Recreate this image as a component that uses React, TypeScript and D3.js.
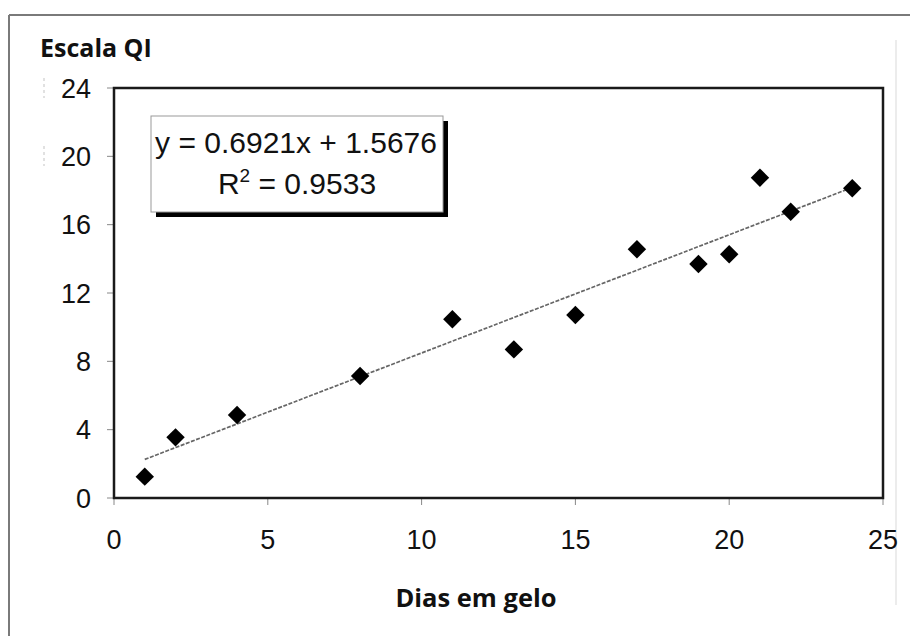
import React from "react";
import * as d3 from "d3";

const days = [1, 2, 4, 8, 11, 13, 15, 17, 19, 20, 21, 22, 24];
const iqScale = [1.25, 3.55, 4.86, 7.14, 10.46, 8.7, 10.71, 14.56, 13.7, 14.27, 18.75, 16.76, 18.13];
const xTicks = [0, 5, 10, 15, 20, 25];
const yTicks = [0, 4, 8, 12, 16, 20, 24];
const slope = 0.6921;
const intercept = 1.5676;
const eqLabel = "y = 0.6921x + 1.5676";
const r2Value = " = 0.9533";
const yTitle = "Escala QI";
const xTitle = "Dias em gelo";

export default function App() {
  const W = 910, H = 636;
  const L = 114, R = 883, T = 88, B = 498;
  const x = d3.scaleLinear().domain([0, 25]).range([L, R]);
  const y = d3.scaleLinear().domain([0, 24]).range([B, T]);
  const diamond = d3.symbol().type(d3.symbolSquare).size(170)();
  const x0 = d3.min(days)!, x1 = d3.max(days)!;
  const line = d3.line<number>().x((d) => x(d)).y((d) => y(slope * d + intercept));
  const sans = "'Liberation Sans', Arial, sans-serif";
  const bold = "'Open Sans', 'Noto Sans', sans-serif";
  return (
    <svg width={W} height={H} style={{ position: "absolute", left: 0, top: 0, background: "#fff" }}>
      <rect x={0} y={0} width={W} height={H} fill="#fff" />
      {/* outer frame */}
      <line x1={9} y1={15} x2={W} y2={15} stroke="#7a7a7a" strokeWidth={2} />
      <line x1={9} y1={15} x2={9} y2={H} stroke="#7a7a7a" strokeWidth={2} />
      <line x1={896} y1={40} x2={896} y2={605} stroke="#e0e0e0" strokeWidth={1.2} />
      {/* faint artifacts */}
      <line x1={44} y1={78} x2={44} y2={98} stroke="#d8d8d8" strokeWidth={1.5} strokeDasharray="3 3" />
      <line x1={44} y1={146} x2={44} y2={166} stroke="#d8d8d8" strokeWidth={1.5} strokeDasharray="3 3" />

      <text x={40} y={57} fontFamily={bold} fontWeight={700} fontSize={25} fill="#111">{yTitle}</text>

      {/* y ticks */}
      {yTicks.map((t) => (
        <g key={"y" + t}>
          <line x1={L - 7} x2={L} y1={y(t)} y2={y(t)} stroke="#888" strokeWidth={1} />
          <text x={91} y={y(t) + 9.5} textAnchor="end" fontFamily={sans} fontSize={27} fill="#111">{t}</text>
        </g>
      ))}
      {/* x ticks */}
      {xTicks.map((t) => (
        <g key={"x" + t}>
          <line x1={x(t)} x2={x(t)} y1={B} y2={B + 7} stroke="#888" strokeWidth={1} />
          <text x={x(t)} y={549} textAnchor="middle" fontFamily={sans} fontSize={27} fill="#111">{t}</text>
        </g>
      ))}

      {/* trendline */}
      <path d={line([x0, x1]) || ""} fill="none" stroke="#666" strokeWidth={1.7} strokeDasharray="4 1.5" />

      {/* points */}
      {days.map((d, i) => (
        <path key={i} d={diamond} transform={`translate(${x(d)},${y(iqScale[i])}) rotate(45)`} fill="#000" />
      ))}

      {/* plot frame */}
      <rect x={L} y={T} width={R - L} height={B - T} fill="none" stroke="#1a1a1a" strokeWidth={2.5} />

      {/* legend */}
      <rect x={156} y={121} width={292} height={96} fill="#000" />
      <rect x={151} y={116} width={292} height={96} fill="#fff" stroke="#999" strokeWidth={1} />
      <text x={296} y={153} textAnchor="middle" fontFamily={sans} fontSize={30} fill="#111">{eqLabel}</text>
      <text x={297} y={194} textAnchor="middle" fontFamily={sans} fontSize={30} fill="#111">
        R<tspan dy={-12} fontSize={19}>2</tspan><tspan dy={12}>{r2Value}</tspan>
      </text>

      <text x={476} y={607} textAnchor="middle" fontFamily={bold} fontWeight={700} fontSize={25.5} fill="#111">{xTitle}</text>
    </svg>
  );
}
